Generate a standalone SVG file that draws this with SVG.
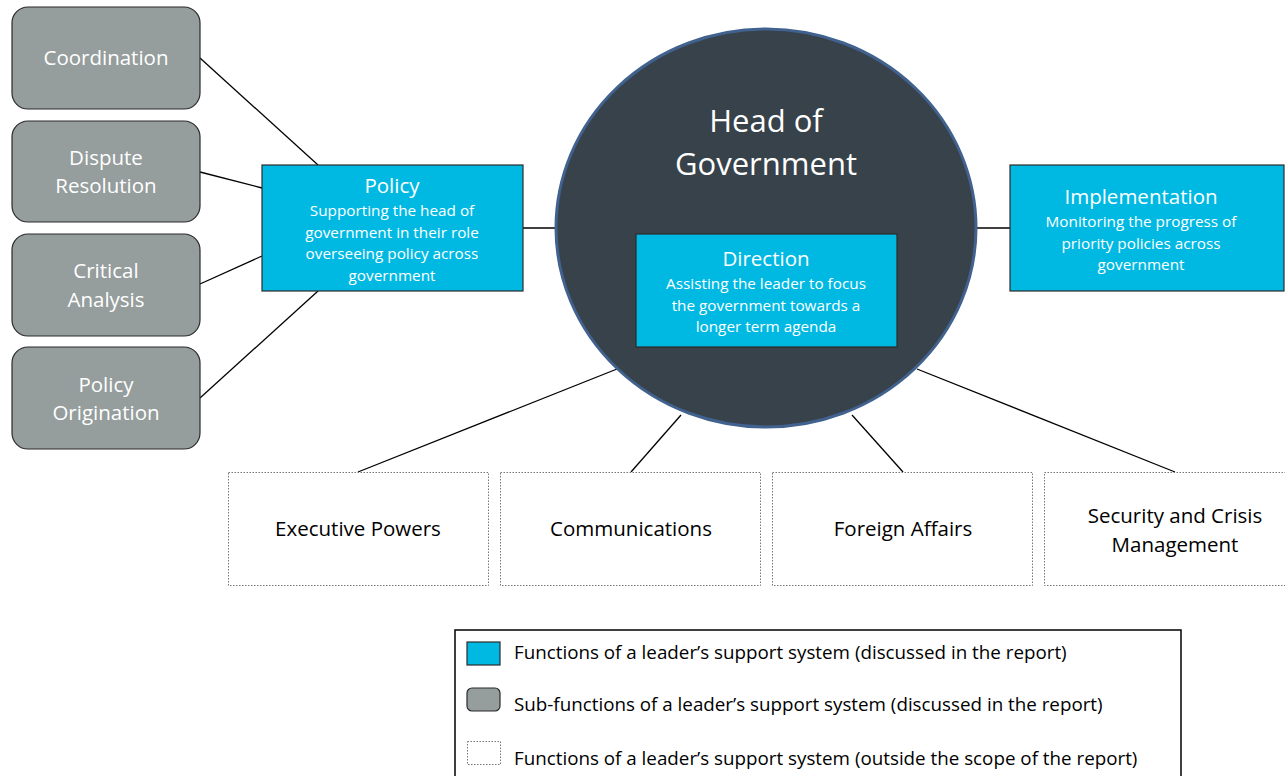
<svg xmlns="http://www.w3.org/2000/svg" width="1285" height="776" viewBox="0 0 1285 776">
<style>
text{font-family:"Open Sans","Liberation Sans",sans-serif;text-anchor:middle}
.sub{fill:#959d9d;stroke:#2b2b2b;stroke-width:1.2}
.fn{fill:#00b9e3;stroke:#2b2b2b;stroke-width:1.2}
.out{fill:#fff;stroke:#777;stroke-width:1;stroke-dasharray:1.5 1.5}
.w{fill:#fff}
.k{fill:#000}
.t{font-size:20.5px}
.s{font-size:15.3px}
.c{stroke:#000;stroke-width:1.3;fill:none}
.lg{font-size:18.8px;text-anchor:start;fill:#000}
</style>
<rect width="1285" height="776" fill="#fff"/>
<g id="connectors">
<line class="c" x1="200" y1="58" x2="318" y2="165"/>
<line class="c" x1="200" y1="172" x2="262" y2="188"/>
<line class="c" x1="200" y1="284" x2="262" y2="256"/>
<line class="c" x1="200" y1="398" x2="318" y2="291"/>
<line class="c" x1="523" y1="228" x2="557" y2="228"/>
<line class="c" x1="976" y1="228" x2="1010" y2="228"/>
<line class="c" x1="617" y1="369" x2="358" y2="472"/>
<line class="c" x1="681" y1="415" x2="631" y2="472"/>
<line class="c" x1="852" y1="415" x2="903" y2="472"/>
<line class="c" x1="917" y1="369" x2="1175" y2="472"/>
</g>
<g id="coordination"><rect class="sub" x="12" y="7" width="188" height="102" rx="16"/><text class="t w" x="106" y="65">Coordination</text></g>
<g id="dispute"><rect class="sub" x="12" y="121" width="188" height="101" rx="16"/><text class="t w" x="106" y="165">Dispute</text><text class="t w" x="106" y="193">Resolution</text></g>
<g id="critical"><rect class="sub" x="12" y="234" width="188" height="102" rx="16"/><text class="t w" x="106" y="278">Critical</text><text class="t w" x="106" y="307">Analysis</text></g>
<g id="origination"><rect class="sub" x="12" y="347" width="188" height="102" rx="16"/><text class="t w" x="106" y="392">Policy</text><text class="t w" x="106" y="420">Origination</text></g>
<g id="policy"><rect class="fn" x="262" y="165" width="261" height="126"/>
<text class="t w" x="392" y="193">Policy</text>
<text class="s w" x="392" y="216">Supporting the head of</text>
<text class="s w" x="392" y="238">government in their role</text>
<text class="s w" x="392" y="259">overseeing policy across</text>
<text class="s w" x="392" y="281">government</text></g>
<g id="head"><ellipse cx="766" cy="228" rx="210" ry="199" fill="#37424a" stroke="#41618f" stroke-width="3"/>
<text class="w" x="766" y="132" font-size="31">Head of</text>
<text class="w" x="766" y="175" font-size="31">Government</text></g>
<g id="direction"><rect class="fn" x="636" y="234" width="261" height="113"/>
<text class="t w" x="766" y="266">Direction</text>
<text class="s w" x="766" y="289">Assisting the leader to focus</text>
<text class="s w" x="766" y="311">the government towards a</text>
<text class="s w" x="766" y="332">longer term agenda</text></g>
<g id="implementation"><rect class="fn" x="1010" y="165" width="274" height="126"/>
<text class="t w" x="1141" y="204">Implementation</text>
<text class="s w" x="1141" y="227">Monitoring the progress of</text>
<text class="s w" x="1141" y="249">priority policies across</text>
<text class="s w" x="1141" y="270">government</text></g>
<g id="executive"><rect class="out" x="228.5" y="472.5" width="260" height="113"/><text class="t k" x="358" y="536">Executive Powers</text></g>
<g id="communications"><rect class="out" x="500.5" y="472.5" width="260" height="113"/><text class="t k" x="631" y="536">Communications</text></g>
<g id="foreign"><rect class="out" x="772.5" y="472.5" width="260" height="113"/><text class="t k" x="903" y="536">Foreign Affairs</text></g>
<g id="security"><rect class="out" x="1044.5" y="472.5" width="241" height="113"/><text class="t k" x="1175" y="523">Security and Crisis</text><text class="t k" x="1175" y="552">Management</text></g>
<g id="legend">
<rect x="455" y="630" width="726" height="150" fill="#fff" stroke="#000" stroke-width="1.5"/>
<rect class="fn" x="467" y="642" width="33" height="23"/>
<text class="lg" x="514" y="659">Functions of a leader’s support system (discussed in the report)</text>
<rect class="sub" x="467" y="688" width="33" height="23" rx="5"/>
<text class="lg" x="514" y="711">Sub-functions of a leader’s support system (discussed in the report)</text>
<rect class="out" x="467.5" y="741.5" width="33" height="23"/>
<text class="lg" x="514" y="765">Functions of a leader’s support system (outside the scope of the report)</text>
</g>
</svg>
